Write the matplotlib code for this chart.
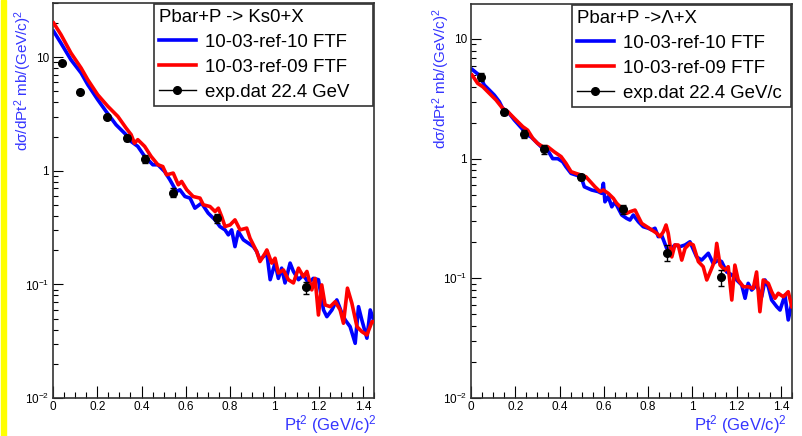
"""
Spectres en Pt^2 : Pbar+P -> Ks0+X et Pbar+P -> Lambda+X
Comparaison FTF (10-03-ref-10 / 10-03-ref-09) avec les donnees a 22.4 GeV/c.
Sortie : out.png
"""

import matplotlib
matplotlib.use("Agg")
import matplotlib.pyplot as plt
from matplotlib.lines import Line2D
from matplotlib.patches import Rectangle
from matplotlib.ticker import FixedLocator, MultipleLocator, LogLocator, FuncFormatter, NullFormatter

plt.rcParams.update({
    "font.family": ["Liberation Sans", "DejaVu Sans"],
    "mathtext.fontset": "custom",
    "mathtext.rm": "Liberation Sans",
    "mathtext.it": "Liberation Sans:italic",
    "mathtext.bf": "Liberation Sans:bold",
    "mathtext.default": "regular",
    "axes.linewidth": 1.2,
    "axes.edgecolor": "#333333",
})

BLEU = "#0000ff"
ROUGE = "#ff0000"
BLEU_TITRE = "#3535ff"

# --- Ks0 : FTF 10-03-ref-10 (bleu)
ks_x_ref10 = [0.003, 0.036, 0.081, 0.127, 0.157, 0.202, 0.240, 0.285, 0.330, 0.353, 0.383, 0.414,
              0.451, 0.474, 0.504, 0.528, 0.558, 0.573, 0.596, 0.619, 0.641, 0.671, 0.701, 0.732,
              0.754, 0.777, 0.792, 0.807, 0.822, 0.837, 0.860, 0.882, 0.905, 0.920, 0.935, 0.966,
              0.981, 1.003, 1.018, 1.033, 1.048, 1.071, 1.086, 1.109, 1.131, 1.154, 1.176, 1.199,
              1.222, 1.237, 1.260, 1.282, 1.305, 1.320, 1.342, 1.365, 1.380, 1.395, 1.418, 1.433, 1.448]
ks_y_ref10 = [16.9, 13.3, 9.5, 7.26, 5.73, 4.23, 3.33, 2.54, 2.08, 1.81, 1.64, 1.34,
              1.13, 1.13, 0.986, 0.834, 0.657, 0.681, 0.594, 0.575, 0.469, 0.519, 0.424, 0.370,
              0.323, 0.302, 0.273, 0.302, 0.215, 0.292, 0.247, 0.231, 0.215, 0.195, 0.164, 0.188,
              0.110, 0.154, 0.113, 0.139, 0.103, 0.154, 0.130, 0.110, 0.121, 0.103, 0.113, 0.110,
              0.0596, 0.052, 0.0596, 0.073, 0.0557, 0.0486, 0.0425, 0.0303, 0.0637, 0.0486, 0.0336, 0.0596, 0.0486]

# --- Ks0 : FTF 10-03-ref-09 (rouge)
ks_x_ref09 = [0.003, 0.036, 0.081, 0.127, 0.157, 0.202, 0.248, 0.293, 0.330, 0.353, 0.368, 0.383,
              0.414, 0.443, 0.474, 0.496, 0.513, 0.543, 0.566, 0.581, 0.604, 0.633, 0.664, 0.679,
              0.709, 0.732, 0.747, 0.762, 0.777, 0.800, 0.822, 0.845, 0.875, 0.890, 0.920, 0.935,
              0.958, 0.966, 0.988, 1.003, 1.018, 1.041, 1.063, 1.086, 1.109, 1.131, 1.147, 1.169,
              1.184, 1.199, 1.214, 1.229, 1.252, 1.275, 1.297, 1.312, 1.330, 1.350, 1.373, 1.395,
              1.418, 1.441, 1.450]
ks_y_ref09 = [20.0, 15.8, 10.9, 8.03, 6.34, 4.67, 3.69, 3.01, 2.38, 2.08, 1.75, 1.88,
              1.64, 1.34, 1.13, 1.09, 0.922, 0.955, 0.753, 0.806, 0.681, 0.594, 0.575, 0.502,
              0.485, 0.438, 0.469, 0.395, 0.323, 0.334, 0.370, 0.302, 0.313, 0.255, 0.195, 0.159,
              0.188, 0.201, 0.154, 0.170, 0.126, 0.134, 0.110, 0.103, 0.139, 0.117, 0.130, 0.0895,
              0.113, 0.0538, 0.099, 0.066, 0.0637, 0.0705, 0.0596, 0.0455, 0.0927, 0.0683, 0.0425, 0.0384,
              0.0359, 0.047, 0.047]

# --- Ks0 : donnees exp. 22.4 GeV
ks_x_exp = [0.042, 0.122, 0.242, 0.333, 0.416, 0.540, 0.742, 1.142]
ks_y_exp = [8.9, 4.93, 3.0, 1.96, 1.27, 0.644, 0.383, 0.094]
ks_err_exp = [0.3, 0.2, 0.12, 0.12, 0.1, 0.06, 0.035, 0.012]

# --- Lambda : FTF 10-03-ref-10 (bleu)
la_x_ref10 = [0.005, 0.037, 0.060, 0.083, 0.105, 0.128, 0.143, 0.166, 0.196, 0.226, 0.256, 0.271,
              0.294, 0.316, 0.346, 0.369, 0.392, 0.414, 0.429, 0.452, 0.474, 0.497, 0.512, 0.545,
              0.575, 0.590, 0.598, 0.605, 0.620, 0.636, 0.650, 0.665, 0.681, 0.703, 0.718, 0.733,
              0.756, 0.778, 0.801, 0.816, 0.831, 0.846, 0.861, 0.884, 0.899, 0.921, 0.944, 0.967,
              0.989, 1.019, 1.042, 1.072, 1.094, 1.117, 1.132, 1.155, 1.178, 1.200, 1.223, 1.238,
              1.252, 1.268, 1.290, 1.313, 1.328, 1.343, 1.358, 1.381, 1.396, 1.418, 1.433, 1.449]
la_y_ref10 = [5.57, 4.99, 4.12, 3.74, 3.40, 2.99, 2.63, 2.47, 2.10, 1.82, 1.57, 1.52,
              1.38, 1.26, 1.18, 1.00, 1.00, 0.942, 0.855, 0.753, 0.730, 0.706, 0.582, 0.547,
              0.530, 0.513, 0.622, 0.436, 0.481, 0.396, 0.436, 0.385, 0.338, 0.317, 0.307, 0.338,
              0.297, 0.270, 0.262, 0.254, 0.262, 0.223, 0.230, 0.178, 0.172, 0.190, 0.184, 0.190,
              0.202, 0.151, 0.142, 0.162, 0.133, 0.142, 0.138, 0.113, 0.107, 0.0969, 0.0879, 0.0681,
              0.0908, 0.0798, 0.0879, 0.0701, 0.0969, 0.0851, 0.0659, 0.0580, 0.0543, 0.0724, 0.0449, 0.0618]

# --- Lambda : FTF 10-03-ref-09 (rouge)
la_x_ref09 = [0.005, 0.030, 0.053, 0.083, 0.113, 0.143, 0.166, 0.196, 0.234, 0.256, 0.279, 0.301,
              0.324, 0.346, 0.376, 0.407, 0.429, 0.452, 0.474, 0.497, 0.519, 0.560, 0.583, 0.598,
              0.620, 0.643, 0.658, 0.681, 0.703, 0.718, 0.741, 0.756, 0.771, 0.794, 0.816, 0.839,
              0.854, 0.869, 0.881, 0.891, 0.907, 0.921, 0.936, 0.952, 0.967, 0.989, 1.004, 1.027,
              1.049, 1.065, 1.087, 1.102, 1.110, 1.125, 1.147, 1.162, 1.178, 1.192, 1.207, 1.230,
              1.252, 1.275, 1.290, 1.305, 1.320, 1.343, 1.358, 1.373, 1.388, 1.411, 1.433, 1.449]
la_y_ref09 = [4.99, 4.26, 3.99, 3.51, 3.09, 2.63, 2.47, 2.17, 1.85, 1.73, 1.48, 1.34,
              1.26, 1.26, 1.14, 1.04, 0.914, 0.778, 0.753, 0.730, 0.706, 0.582, 0.530, 0.547,
              0.513, 0.466, 0.424, 0.385, 0.349, 0.360, 0.372, 0.327, 0.288, 0.270, 0.254, 0.238,
              0.223, 0.245, 0.279, 0.238, 0.151, 0.190, 0.190, 0.142, 0.178, 0.196, 0.190, 0.138,
              0.125, 0.0969, 0.121, 0.142, 0.196, 0.129, 0.117, 0.125, 0.0659, 0.129, 0.0969, 0.0851,
              0.0851, 0.0824, 0.113, 0.0526, 0.0969, 0.0908, 0.0773, 0.0681, 0.0750, 0.0701, 0.0773, 0.0580]

# --- Lambda : donnees exp. 22.4 GeV/c
la_x_exp = [0.045, 0.151, 0.241, 0.331, 0.497, 0.688, 0.887, 1.128]
la_y_exp = [4.83, 2.47, 1.61, 1.20, 0.706, 0.377, 0.164, 0.102]
la_err_exp = [0.35, 0.15, 0.12, 0.1, 0.04, 0.03, 0.025, 0.015]

LABELS_SIM = ["10-03-ref-10 FTF", "10-03-ref-09 FTF"]
ETIQUETTES_Y = {0.01: "$10^{-2}$", 0.1: "$10^{-1}$", 1.0: "1", 10.0: "10"}


def format_y(v, pos):
    for cle, txt in ETIQUETTES_Y.items():
        if abs(v - cle) / cle < 1e-6:
            return txt
    return ""


def tracer_panneau(ax, x_b, y_b, x_r, y_r, x_exp, y_exp, err_exp, titre, label_exp, ymax,
                   pos_ylabel, pos_xlabel):
    ax.plot(x_b, y_b, color=BLEU, lw=2.6, zorder=2)
    ax.plot(x_r, y_r, color=ROUGE, lw=2.6, zorder=3)
    ax.errorbar(x_exp, y_exp, yerr=err_exp, fmt="o", color="black", ms=5.5,
                capsize=2, elinewidth=1, capthick=1, zorder=5)

    ax.set_yscale("log")
    ax.set_xlim(0, 1.45)
    ax.set_ylim(0.01, ymax)

    ax.xaxis.set_major_locator(MultipleLocator(0.2))
    ax.xaxis.set_minor_locator(MultipleLocator(0.05))
    ax.xaxis.set_major_formatter(FuncFormatter(lambda v, p: "0" if abs(v) < 1e-9 else f"{v:g}"))
    ax.yaxis.set_major_locator(FixedLocator([0.01, 0.1, 1, 10]))
    ax.yaxis.set_minor_locator(LogLocator(base=10, subs=range(2, 10)))
    ax.yaxis.set_major_formatter(FuncFormatter(format_y))
    ax.yaxis.set_minor_formatter(NullFormatter())

    ax.tick_params(axis="x", which="major", direction="in", length=9, width=0.8, pad=2.5, labelsize=8.5)
    ax.tick_params(axis="x", which="minor", direction="in", length=4.5, width=0.8)
    ax.tick_params(axis="y", which="major", direction="in", length=7, width=0.8, pad=3, labelsize=8.5)
    ax.tick_params(axis="y", which="minor", direction="in", length=3.6, width=0.8)

    ax.set_ylabel(r"d$\sigma$/dPt$^{2}$ mb/(GeV/c)$^{2}$", color=BLEU_TITRE, fontsize=11, loc="top")
    ax.yaxis.set_label_coords(*pos_ylabel)
    # titre X cale en bas a droite, sous les graduations (style ROOT)
    ax.set_xlabel(r"Pt$^{2}$ (GeV/c)$^{2}$", color=BLEU_TITRE, fontsize=12, loc="right")
    ax.xaxis.label.set_verticalalignment("bottom")
    ax.xaxis.set_label_coords(*pos_xlabel)

    poignees = [Line2D([], [], color=BLEU, lw=2.6),
                Line2D([], [], color=ROUGE, lw=2.6),
                Line2D([], [], color="black", lw=1, marker="o", ms=5.5)]
    # cadre type TLegend : largeur fixe, en haut a droite du cadre
    leg = ax.legend(poignees, LABELS_SIM + [label_exp], title=titre, loc="upper left",
                    bbox_to_anchor=(0.315, 0.997, 0.682, 0), mode="expand",
                    fontsize=13.4, title_fontsize=13.4,
                    alignment="left", frameon=True, fancybox=False, edgecolor="#333333",
                    framealpha=1, borderaxespad=0, handlelength=2.0, handletextpad=0.5,
                    labelspacing=0.43, borderpad=0.25)
    leg.get_frame().set_linewidth(1.2)


def main():
    fig = plt.figure(figsize=(8.03, 4.36), dpi=100)
    fig.patches.append(Rectangle((1 / 803, 0), 5 / 803, 1, transform=fig.transFigure,
                                 color="#ffff00", zorder=0))

    ax_ks = fig.add_axes([53 / 803, 38 / 436, 321 / 803, 395 / 436])
    ax_la = fig.add_axes([471 / 803, 38 / 436, 321 / 803, 394 / 436])

    tracer_panneau(ax_ks, ks_x_ref10, ks_y_ref10, ks_x_ref09, ks_y_ref09,
                   ks_x_exp, ks_y_exp, ks_err_exp, "Pbar+P -> Ks0+X", "exp.dat 22.4 GeV", 30,
                   (-0.06, 0.982), (1.009, -0.0955))
    tracer_panneau(ax_la, la_x_ref10, la_y_ref10, la_x_ref09, la_y_ref09,
                   la_x_exp, la_y_exp, la_err_exp, "Pbar+P ->\u039b+X", "exp.dat 22.4 GeV/c", 19.6,
                   (-0.058, 0.990), (0.984, -0.0955))

    fig.savefig("out.png", dpi=100)
    plt.close(fig)


if __name__ == "__main__":
    main()
